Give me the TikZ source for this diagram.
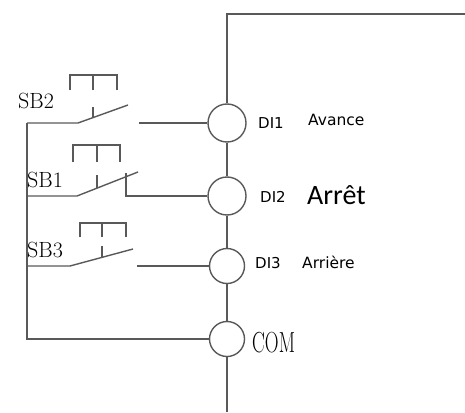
\documentclass[tikz,border=0pt]{standalone}
\usepackage{fontspec}
\newfontfamily\dilabelfont{DejaVu Sans}
\newfontfamily\bigsansfont{Carlito}
\usetikzlibrary{positioning, calc}

\begin{document}
\begin{tikzpicture}[x=1pt, y=-1pt,
  wire/.style={draw=black!65, line width=1.4pt},
  term/.style={wire, circle, inner sep=0pt, minimum size=38pt},
  smallterm/.style={term, minimum size=35pt},
  txt/.style={inner sep=0pt, anchor=base west},
  sblabel/.style={txt, font=\fontsize{22}{24}\selectfont},
  dilabel/.style={txt, font=\dilabelfont\fontsize{15}{17}\selectfont}]
  \useasboundingbox (0,0) rectangle (465,412);

  % terminals of the drive
  \node[term] (di1) at (227,123) {};
  \node[term] (di2) at (227,196) {};
  \node[smallterm] (di3) at (227,266) {};
  \node[smallterm] (com) at (227,339) {};
  \coordinate (top) at (227,14);
  \coordinate (topright) at (465,14);
  \coordinate (bottom) at (227,412);
  \draw[wire] (topright) -- (top) -- (di1) -- (di2) -- (di3) -- (com) -- (bottom);

  % common bus on the left
  \coordinate (bus2) at (27,123);
  \coordinate (bus1) at (27,196);
  \coordinate (bus3) at (27,266);
  \coordinate (buscom) at (27,339);
  \draw[wire] (bus2) -- (buscom) -- (com);

  % switch blades and contacts
  \coordinate (sb2-pivot) at (78,123);
  \coordinate (sb2-tip) at (128,105);
  \coordinate (sb2-fix) at (139,123);
  \draw[wire] (bus2) -- (sb2-pivot) -- (sb2-tip);
  \draw[wire] (sb2-fix) -- (di1);

  \coordinate (sb1-pivot) at (77,196);
  \coordinate (sb1-tip) at (138,172);
  \coordinate (sb1-fix) at (126,173);
  \draw[wire] (bus1) -- (sb1-pivot) -- (sb1-tip);
  \draw[wire] (sb1-fix) |- (di2);

  \coordinate (sb3-pivot) at (70,266);
  \coordinate (sb3-tip) at (133,249);
  \coordinate (sb3-fix) at (137,266);
  \draw[wire] (bus3) -- (sb3-pivot) -- (sb3-tip);
  \draw[wire] (sb3-fix) -- (di3);

  % push button caps
  \foreach \l/\r/\t/\b/\m/\g/\e in {70/117/75/90/93/107/118, 73/120/145/162/97/175/188, 80/126/223/237/102/246/257}{
    \draw[wire] (\l,\b) -- (\l,\t) -- (\r,\t) -- (\r,\b);
    \draw[wire] (\m,\t) -- (\m,\b);
    \draw[wire] (\m,\g) -- (\m,\e);
  }

  % labels
  \node[sblabel] (lbl-sb2) at (18,108) {SB2};
  \node[sblabel] (lbl-sb1) at (27,187) {SB1};
  \node[sblabel] (lbl-sb3) at (27,257) {SB3};

  \node[dilabel] (lbl-di1) at (258,128) {DI1};
  \node[dilabel] (lbl-di2) at (260,202) {DI2};
  \node[dilabel] (lbl-di3) at (255,268) {DI3};
  \node[dilabel, font=\dilabelfont\fontsize{15.5}{17}\selectfont] (lbl-avance) at (308,125) {Avance};
  \node[txt, font=\bigsansfont\fontsize{28}{30}\selectfont] (lbl-arret) at (307,204) {Arrêt};
  \node[dilabel, font=\dilabelfont\fontsize{15.5}{17}\selectfont] (lbl-arriere) at (302,268) {Arrière};
  \node[txt, font=\fontsize{29}{31}\selectfont] (lbl-com) at (252,352) {\scalebox{0.66}[1]{COM}};
\end{tikzpicture}
\end{document}
